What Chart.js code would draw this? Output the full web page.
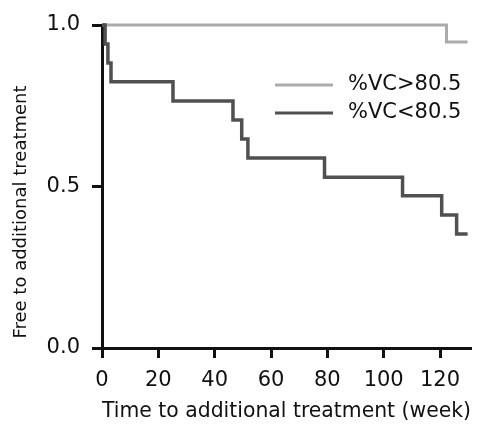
<!DOCTYPE html>
<html>
<head>
<meta charset="utf-8">
<script src="https://cdn.jsdelivr.net/npm/chart.js@4/dist/chart.umd.min.js"></script>
<style>
  html, body { margin: 0; padding: 0; background: #fff; }
  #wrap { width: 483px; height: 430px; }
</style>
</head>
<body>
<div id="wrap"><canvas id="km"></canvas></div>
<script>
// Kaplan-Meier data (weeks, survival fraction)
const highTimes = [0, 122.3, 129.8];
const highSurv = [1.0, 0.947, 0.947];
const lowTimes = [0, 1.1, 2.1, 3.2, 25.2, 46.5, 49.6, 51.8, 79.0, 106.7, 120.6, 125.9, 129.8];
const lowSurv = [1.0, 0.941, 0.882, 0.824, 0.765, 0.706, 0.647, 0.588, 0.529, 0.471, 0.412, 0.353, 0.353];
const seriesLabels = ['%VC>80.5', '%VC<80.5'];
const yTicks = [0, 0.5, 1.0];

const FONT = 'DejaVu Sans';

function toPoints(xs, ys) {
    return xs.map((x, i) => ({ x: x, y: ys[i] }));
}

// legend drawn inside the plot + y title placed like the original figure
const overlay = {
    id: 'overlay',
    afterDraw(chart) {
        const ctx = chart.ctx;
        const area = chart.chartArea;
        ctx.save();

        // y axis title
        ctx.fillStyle = '#111';
        ctx.font = '18px "' + FONT + '"';
        ctx.textAlign = 'center';
        ctx.textBaseline = 'middle';
        ctx.translate(21, 212);
        ctx.rotate(-Math.PI / 2);
        ctx.fillText('Free to additional treatment', 0, 0);
        ctx.restore();

        // legend
        ctx.save();
        const lx = area.left + 173, ly = area.top + 60, gap = 28;
        chart.data.datasets.forEach((ds, i) => {
            const y = ly + i * gap;
            ctx.strokeStyle = ds.borderColor;
            ctx.lineWidth = 3;
            ctx.beginPath();
            ctx.moveTo(lx, y);
            ctx.lineTo(lx + 58, y);
            ctx.stroke();
            ctx.fillStyle = '#111';
            ctx.font = '21px "' + FONT + '"';
            ctx.textAlign = 'left';
            ctx.textBaseline = 'middle';
            ctx.fillText(ds.label, lx + 73, y);
        });
        ctx.restore();
    }
};

new Chart(document.getElementById('km'), {
    type: 'line',
    data: {
        datasets: [
            {
                label: seriesLabels[0],
                data: toPoints(highTimes, highSurv),
                borderColor: '#ababab',
                borderWidth: 3,
                stepped: 'before',
                pointRadius: 0,
                clip: 6,
                order: 1
            },
            {
                label: seriesLabels[1],
                data: toPoints(lowTimes, lowSurv),
                borderColor: '#505050',
                borderWidth: 3.5,
                stepped: 'before',
                pointRadius: 0,
                clip: 6,
                order: 0
            }
        ]
    },
    options: {
        responsive: true,
        maintainAspectRatio: false,
        animation: false,
        layout: { padding: { left: 0, top: 25, right: 12, bottom: 0 } },
        plugins: {
            legend: { display: false },
            tooltip: { enabled: false }
        },
        scales: {
            x: {
                type: 'linear',
                min: 0,
                max: 131,
                afterFit: scale => { scale.height = 82; },
                border: { color: '#111', width: 3 },
                grid: { drawOnChartArea: false, tickLength: 10, tickWidth: 3, tickColor: '#111' },
                ticks: {
                    stepSize: 20,
                    includeBounds: false,
                    padding: 10,
                    color: '#111',
                    font: { family: FONT, size: 21 }
                },
                title: {
                    display: true,
                    text: 'Time to additional treatment (week)',
                    color: '#111',
                    font: { family: FONT, size: 22 },
                    padding: { top: 0, bottom: 6 }
                }
            },
            y: {
                min: 0,
                max: 1,
                afterFit: scale => { scale.width = 102; },
                afterBuildTicks: scale => { scale.ticks = yTicks.map(v => ({ value: v })); },
                border: { color: '#111', width: 3 },
                grid: { drawOnChartArea: false, tickLength: 10, tickWidth: 3, tickColor: '#111' },
                ticks: {
                    padding: 12,
                    color: '#111',
                    font: { family: FONT, size: 21 },
                    callback: v => v.toFixed(1)
                }
            }
        }
    },
    plugins: [overlay]
});
</script>
</body>
</html>
